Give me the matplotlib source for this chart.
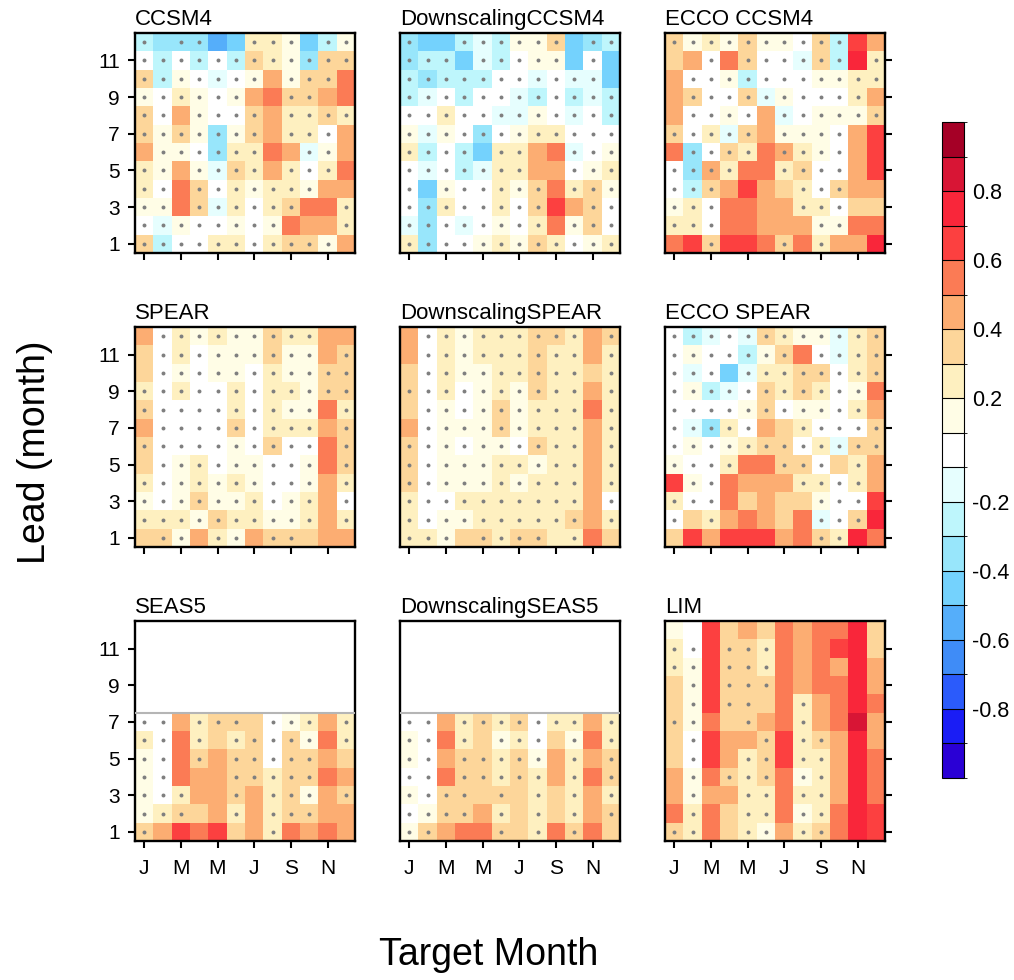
# Lead / target-month correlation skill, 9 panels
import numpy as np
import matplotlib.pyplot as plt
from matplotlib.colors import ListedColormap, BoundaryNorm
import matplotlib as mpl

plt.rcParams['font.family'] = ['Liberation Sans', 'DejaVu Sans']

nan = np.nan

# axis labels
xtick_pos = [1, 3, 5, 7, 9, 11]
xtick_labels = ['J', 'M', 'M', 'J', 'S', 'N']
ytick_pos = [1, 3, 5, 7, 9, 11]
ytick_labels = ['1', '3', '5', '7', '9', '11']

titles = ['CCSM4', 'DownscalingCCSM4', 'ECCO CCSM4',
          'SPEAR', 'DownscalingSPEAR', 'ECCO SPEAR',
          'SEAS5', 'DownscalingSEAS5', 'LIM']

# colour levels (white box covers -0.1..0.1)
levels = [-1.0, -0.9, -0.8, -0.7, -0.6, -0.5, -0.4, -0.3, -0.2, -0.1,
          0.1, 0.2, 0.3, 0.4, 0.5, 0.6, 0.7, 0.8, 0.9, 1.0]
colors = ['#2A00D5', '#1A1DF5', '#2B5BFB', '#3F8CF7', '#55AEFA', '#74D2FD',
          '#98E6FB', '#BEF6FC', '#E6FEFE', '#FFFFFF',
          '#FFFDE6', '#FEF0C0', '#FDD69A', '#FCAD72', '#FB7B55', '#FC4040',
          '#F9263A', '#D81535', '#A50026']
cbar_ticks = [-0.8, -0.6, -0.4, -0.2, 0.2, 0.4, 0.6, 0.8]

# correlation, rows = lead 12 (top) ... lead 1 (bottom), columns = Jan..Dec
ccsm4 = [
    [-.25, -.35, -.35, -.35, -.55, -.45, .25, .25, .15, -.45, -.25, .15],
    [0, -.25, 0, -.25, 0, -.25, .35, .25, .15, -.35, .35, .35],
    [.35, -.25, .15, 0, -.15, 0, .15, .45, .15, .35, .35, .55],
    [.15, 0, .25, .15, 0, .15, .45, .55, .35, .35, .45, .55],
    [.35, 0, .45, .15, 0, 0, .35, .45, .25, .25, .35, .25],
    [.35, .15, .35, .15, -.35, .15, .35, .45, .25, .25, 0, .45],
    [.45, .15, .15, 0, -.35, .25, .25, .55, .45, -.15, .15, .45],
    [.25, .15, .45, .15, -.15, .35, .25, .45, .25, 0, .25, .55],
    [.25, 0, .55, .35, 0, .25, .15, .25, .25, .15, .45, .45],
    [.15, .15, .55, .35, -.15, .25, 0, .25, .35, .55, .55, .25],
    [0, -.15, .15, 0, 0, .15, 0, .15, .55, .45, .45, .25],
    [.35, -.25, 0, 0, .25, .25, 0, .25, .35, .35, .15, .45]]
ds_ccsm4 = [
    [-.35, -.45, -.45, -.25, -.15, -.25, .15, .15, .35, -.45, -.35, -.25],
    [-.35, -.25, -.25, -.45, -.15, -.25, 0, .15, .15, -.45, 0, -.45],
    [-.25, -.35, -.25, -.25, -.25, 0, 0, -.15, 0, -.15, -.15, -.45],
    [-.25, -.15, 0, -.25, 0, 0, -.15, -.25, 0, -.25, -.15, -.25],
    [0, 0, .25, 0, 0, -.15, -.15, .15, 0, -.15, 0, -.25],
    [.15, -.15, .15, 0, -.35, 0, .15, .25, .25, 0, 0, 0],
    [.25, -.25, 0, -.25, -.45, .25, .25, .45, .55, -.15, 0, .15],
    [0, -.15, 0, -.25, -.15, .25, .25, .45, .45, 0, .15, .25],
    [0, -.45, .15, 0, 0, .25, .15, .35, .55, .25, .35, .15],
    [0, -.35, .25, 0, 0, .25, 0, .35, .65, .45, .35, 0],
    [-.15, -.35, 0, -.15, 0, .15, 0, .25, .55, .15, .35, 0],
    [.25, -.35, 0, 0, .15, .25, .15, .35, .25, 0, .15, .25]]
ecco_ccsm4 = [
    [.35, .15, .25, .15, .35, .15, .15, 0, .35, -.25, .65, .45],
    [.35, .45, 0, .55, .35, 0, 0, -.15, .35, -.25, .75, .25],
    [.45, 0, 0, .15, -.25, 0, 0, 0, .15, .15, .25, .25],
    [.45, .35, 0, 0, .35, -.15, .15, 0, 0, 0, .25, .45],
    [.45, 0, 0, .15, 0, .45, -.15, 0, .15, .15, .15, .35],
    [.35, 0, .25, -.15, .35, .45, .15, .15, .15, 0, .45, .65],
    [.55, -.35, 0, .35, .25, .55, .45, .25, .15, 0, .45, .65],
    [0, -.35, .45, .25, .55, .55, .25, .35, 0, 0, .45, .65],
    [0, -.25, .35, .45, .65, .45, .35, .25, 0, .35, .45, .45],
    [.15, .25, 0, .55, .55, .45, .45, .25, .25, 0, .35, .35],
    [.25, .25, 0, .55, .55, .45, .45, .45, .15, .15, .55, .55],
    [.55, .65, .35, .65, .65, .55, .35, .55, .25, .45, .45, .75]]
spear = [
    [.45, 0, .25, .15, .25, .15, .15, .35, .25, .25, .45, .45],
    [.35, 0, .25, 0, .15, .15, .15, .35, .15, .15, .45, .35],
    [.35, 0, .15, 0, .15, .15, 0, .25, .15, .15, .35, .35],
    [.25, 0, .25, 0, 0, .25, 0, .25, .25, .15, .35, .35],
    [.35, 0, 0, 0, 0, .25, 0, .25, .15, .15, .55, .25],
    [.45, 0, 0, 0, 0, .35, 0, .25, .25, .25, .45, .35],
    [.35, 0, 0, 0, 0, .15, 0, .35, 0, 0, .55, .35],
    [.35, 0, .15, .25, 0, .15, .15, 0, 0, .15, .55, .35],
    [.25, 0, .15, .25, .15, .25, .15, 0, 0, .15, .45, .25],
    [.15, 0, .15, .35, .15, .15, .25, 0, .15, .25, .45, 0],
    [.25, .25, .25, .15, .35, .25, .25, .15, .15, .25, .45, .25],
    [.35, .35, .15, .45, .25, .15, .45, .35, .35, .35, .45, .45]]
ds_spear = [
    [.45, 0, .25, .15, .25, .25, .25, .35, .35, .25, .45, .35],
    [.45, 0, .25, .15, .25, .25, .25, .35, .25, .25, .45, .25],
    [.35, 0, .25, .15, .15, .25, .25, .35, .25, .25, .35, .25],
    [.35, 0, .25, 0, .15, .25, .15, .35, .25, .25, .45, .25],
    [.35, 0, .15, 0, .15, .35, .15, .25, .25, .25, .55, .25],
    [.45, 0, .15, .15, .15, .35, .15, .25, .25, .25, .45, .25],
    [.35, 0, .15, 0, .15, .15, 0, .35, .25, .25, .45, .25],
    [.35, 0, .15, .15, .15, .25, .25, .15, .25, .25, .45, .25],
    [.35, 0, .15, .15, .15, .25, .15, .25, .25, .25, .45, .25],
    [.25, 0, 0, .25, .25, .25, .25, .25, .25, .25, .45, 0],
    [.25, 0, .15, .15, .25, .25, .25, .25, .25, .35, .45, .25],
    [.25, .25, .15, .35, .35, .25, .35, .35, .25, .25, .55, .35]]
ecco_spear = [
    [0, -.25, -.15, 0, -.15, .35, .25, .15, .15, -.15, .25, .35],
    [0, .15, 0, 0, -.25, .15, .35, .55, 0, -.15, .25, .35],
    [0, -.15, 0, -.45, -.15, .25, .25, .35, .35, 0, .25, .35],
    [0, .15, -.25, -.15, 0, .35, .25, .35, .25, 0, .15, .55],
    [0, 0, 0, 0, .15, .35, 0, .15, .15, 0, .25, .45],
    [0, -.15, -.35, .25, 0, .45, .35, .25, 0, 0, 0, .35],
    [0, .15, 0, .15, .25, .35, .35, 0, .25, -.15, .35, .35],
    [.15, 0, 0, .25, .55, .55, .35, .35, 0, .35, .25, .45],
    [.65, .15, 0, .55, .45, .45, .45, .25, .25, 0, .25, .45],
    [.25, 0, 0, .55, .35, .45, .35, .35, .15, 0, 0, .65],
    [0, .35, .25, .45, .55, .45, .35, .55, -.15, 0, .35, .75],
    [.35, .65, .45, .65, .65, .65, .45, .55, .35, .25, .75, .55]]
# SEAS5 only runs to lead 7: rows = lead 7 ... lead 1
seas5 = [
    [0, 0, .45, .25, .35, .35, .35, 0, .15, .25, .45, .25],
    [.25, 0, .55, .25, .35, .25, .35, 0, .35, .15, .55, .25],
    [.15, 0, .55, .35, .45, .35, .35, 0, .35, .35, .45, .35],
    [.15, 0, .55, .45, .45, .35, .35, .25, .35, .35, .55, .45],
    [.15, 0, .25, .45, .45, .35, .45, .25, .35, .15, .45, .35],
    [.15, .25, .35, .35, .45, .25, .45, .25, .35, .35, .45, .45],
    [.35, .45, .65, .55, .65, .35, .45, .25, .55, .45, .55, .45]]
ds_seas5 = [
    [0, 0, .45, .25, .35, .25, .35, 0, .25, .25, .45, .25],
    [.15, 0, .55, .25, .35, .15, .25, 0, .35, .15, .55, .25],
    [.15, 0, .45, .35, .35, .25, .35, .15, .45, .25, .45, .35],
    [0, 0, .55, .35, .35, .25, .35, .25, .45, .25, .55, .35],
    [.15, 0, .35, .35, .35, .35, .35, .25, .35, .25, .45, .25],
    [0, .15, .35, .35, .45, .25, .35, .25, .35, .25, .45, .35],
    [.15, .35, .45, .55, .55, .35, .35, .25, .55, .35, .55, .35]]
lim = [
    [.15, 0, .65, .35, .45, .35, .55, .45, .55, .55, .75, .35],
    [.25, 0, .65, .35, .35, .25, .55, .45, .55, .65, .75, .35],
    [.25, .15, .65, .35, .35, .25, .55, .45, .55, .45, .75, .45],
    [.35, .15, .65, .35, .35, .35, .55, .45, .55, .55, .75, .45],
    [.35, .15, .65, .35, .35, .35, .55, .25, .45, .55, .75, .55],
    [.35, .15, .55, .35, .35, .45, .55, .25, .45, .55, .85, .45],
    [.35, 0, .65, .45, .45, .35, .65, .25, .35, .45, .75, .45],
    [.35, 0, .65, .45, .25, .35, .65, .25, .25, .45, .75, .55],
    [.45, .15, .55, .35, .25, .35, .55, .15, .25, .45, .75, .55],
    [.45, .15, .45, .45, .25, .25, .55, .25, .25, .45, .75, .55],
    [.55, .25, .55, .35, .25, .25, .55, .15, .25, .55, .75, .65],
    [.35, .25, .55, .35, .25, .15, .45, .25, .35, .55, .75, .65]]

# stippling (1 = grey dot drawn), same row order as the values
ccsm4_dot = ['101100111011', '111111111111', '111111101110', '111111001100',
             '110111101111', '111111101110', '011111100110', '110111101110',
             '110111111100', '110111111001', '111111110001', '111111111110']
ds_ccsm4_dot = ['100111111011', '111011111010', '111111111110', '111111111111',
                '111111111111', '111111111111', '111101100111', '111111100111',
                '101111110111', '111111110011', '111111110111', '111111111111']
ecco_ccsm4_dot = ['111111111100', '001011111101', '011111111111', '011111111110',
                  '011110111111', '111110111100', '011110111100', '111100111100',
                  '111000011100', '111000011100', '111000001100', '001000101000']
spear_dot = ['011111111100', '011111111101', '011111111111', '111111111111',
             '111111111101', '011111111101', '111111111101', '011111111101',
             '111111111101', '111111111101', '111111111101', '011011011000']
ds_spear_dot = ['011111111101', '011111111101', '011111111101', '111111111101',
                '011111111101', '011111111101', '111111111101', '111111111101',
                '111111111101', '111111111101', '111111111101', '111011110100']
ecco_spear_dot = ['111111111111', '111111101111', '111011111111', '111111111110',
                  '111111111110', '111110011111', '111111111111', '111100111010',
                  '011000011110', '111000001110', '101000001110', '000000001100']
seas5_dot = ['110111011101', '110101111101', '110101111100', '110001111100',
             '111001011101', '111001011100', '100000010000']
ds_seas5_dot = ['110111111101', '110101110101', '110111110101', '110111110101',
                '111101010101', '111101010101', '110001010100']
lim_dot = ['000000000000', '110111000000', '110111000000', '010111000000',
           '010110010000', '110010010000', '010001011000', '010011011000',
           '010111011000', '010011011000', '010011011000', '110011011000']


def to_grid(rows, dots):
    # pad short (SEAS5) tables with empty leads on top, flip so lead 1 is row 0
    rows = [[nan] * 12] * (12 - len(rows)) + rows
    dots = ['0' * 12] * (12 - len(dots)) + dots
    val = np.array(rows, dtype=float)[::-1]
    dot = np.array([[c == '1' for c in r] for r in dots])[::-1]
    return val, dot


panels = [(ccsm4, ccsm4_dot), (ds_ccsm4, ds_ccsm4_dot), (ecco_ccsm4, ecco_ccsm4_dot),
          (spear, spear_dot), (ds_spear, ds_spear_dot), (ecco_spear, ecco_spear_dot),
          (seas5, seas5_dot), (ds_seas5, ds_seas5_dot), (lim, lim_dot)]

cmap = ListedColormap(colors)
norm = BoundaryNorm(levels, cmap.N)

fig = plt.figure(figsize=(10.14, 9.8), dpi=100)
W, H = 1014.0, 980.0
lefts = [135, 400, 665]
tops = [33, 327, 621]
size = 220

edges = np.arange(0.5, 13.0, 1.0)
centers = np.arange(1, 13)
for i, (rows, dots) in enumerate(panels):
    r, c = divmod(i, 3)
    ax = fig.add_axes([lefts[c] / W, 1 - (tops[r] + size) / H, size / W, size / H])
    val, dot = to_grid(rows, dots)
    ax.pcolormesh(edges, edges, np.ma.masked_invalid(val), cmap=cmap, norm=norm)
    xx, yy = np.meshgrid(centers, centers)
    ax.scatter(xx[dot], yy[dot], s=8, c='#7f7f7f', linewidths=0, zorder=3)
    if i in (6, 7):
        ax.axhline(7.5, color='#b5b5b5', lw=1.5, zorder=4)
    ax.set_xlim(0.5, 12.5)
    ax.set_ylim(0.5, 12.5)
    for sp in ax.spines.values():
        sp.set_linewidth(1.7)
    ax.set_xticks(xtick_pos)
    if r == 2:
        ax.set_xticklabels(xtick_labels)
    else:
        ax.set_xticklabels([])
    ax.tick_params(axis='x', direction='out', length=5, width=1.5, labelsize=15, pad=8)
    ax.set_yticks(ytick_pos)
    if c == 0:
        ax.set_yticklabels(ytick_labels)
        ax.tick_params(axis='y', direction='out', length=5, width=1.5, labelsize=15, pad=6)
    elif c == 2:
        ax.yaxis.tick_right()
        ax.set_yticklabels([])
        ax.tick_params(axis='y', direction='out', length=5, width=1.5)
    else:
        ax.tick_params(axis='y', left=False, labelleft=False)
    ax.text(0.0, 1.015, titles[i], transform=ax.transAxes, ha='left', va='bottom', fontsize=16)

# colour bar
cax = fig.add_axes([942 / W, 1 - 778 / H, 22 / W, 656 / H])
sm = mpl.cm.ScalarMappable(norm=norm, cmap=cmap)
cb = fig.colorbar(sm, cax=cax, boundaries=levels, ticks=cbar_ticks,
                  spacing='uniform', drawedges=True)
cb.outline.set_linewidth(0.8)
cb.dividers.set_linewidth(0.8)
cb.ax.tick_params(length=0, labelsize=15.5, pad=6)
cb.ax.set_yticklabels(['-0.8', '-0.6', '-0.4', '-0.2', '0.2', '0.4', '0.6', '0.8'])

fig.text(35 / W, 1 - 452 / H, 'Lead (month)', rotation=90, ha='center', va='center', fontsize=27)
fig.text(489 / W, 1 - 955 / H, 'Target Month', ha='center', va='center', fontsize=27)

fig.savefig('out.png', dpi=100)
